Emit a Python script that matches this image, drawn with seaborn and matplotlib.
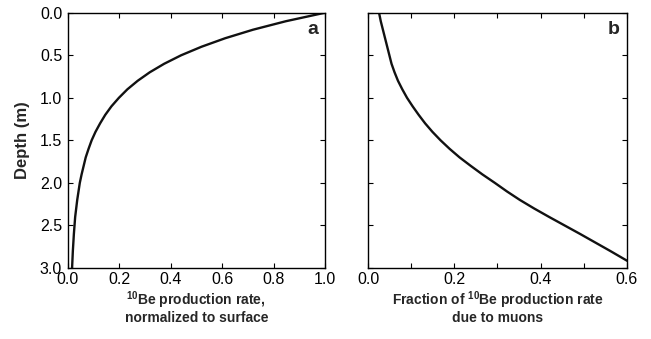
import numpy as np
import pandas as pd
import matplotlib
matplotlib.use("Agg")
import matplotlib.pyplot as plt
import seaborn as sns

# Panel a: 10Be production rate normalized to surface vs depth (m)
depth_a = [0.0, 0.1, 0.2, 0.3, 0.4, 0.5, 0.6, 0.7, 0.8, 0.9, 1.0, 1.1, 1.2,
           1.3, 1.4, 1.5, 1.6, 1.7, 1.8, 1.9, 2.0, 2.2, 2.4, 2.6, 2.8, 3.0]
rate_a = [1.0, 0.848, 0.720, 0.612, 0.520, 0.441, 0.375, 0.319, 0.272,
          0.232, 0.199, 0.170, 0.146, 0.126, 0.108, 0.093, 0.081, 0.070,
          0.062, 0.054, 0.047, 0.037, 0.029, 0.024, 0.020, 0.017]

# Panel b: fraction of 10Be production rate due to muons vs depth (m)
depth_b = [0.0, 0.1, 0.2, 0.3, 0.4, 0.5, 0.6, 0.7, 0.8, 0.9, 1.0, 1.1, 1.2,
           1.3, 1.4, 1.5, 1.6, 1.7, 1.8, 1.9, 2.0, 2.1, 2.2, 2.3, 2.4, 2.5,
           2.6, 2.7, 2.8, 2.9, 3.0]
frac_b = [0.025, 0.029, 0.034, 0.039, 0.044, 0.049, 0.054, 0.061, 0.069,
          0.079, 0.090, 0.103, 0.117, 0.132, 0.149, 0.168, 0.189, 0.212,
          0.238, 0.265, 0.294, 0.322, 0.352, 0.385, 0.420, 0.456, 0.492,
          0.527, 0.562, 0.596, 0.630]

xticks_a = [0.0, 0.2, 0.4, 0.6, 0.8, 1.0]
xticks_b = [0.0, 0.1, 0.2, 0.3, 0.4, 0.5, 0.6]
xticklabels_b = ["0.0", "", "0.2", "", "0.4", "", "0.6"]
yticks = [0.0, 0.5, 1.0, 1.5, 2.0, 2.5, 3.0]

sns.set_style("ticks")
plt.rcParams["font.family"] = ["Liberation Sans", "DejaVu Sans"]
plt.rcParams["mathtext.fontset"] = "custom"
plt.rcParams["mathtext.rm"] = "Liberation Sans"
plt.rcParams["mathtext.bf"] = "Liberation Sans:bold"
plt.rcParams["mathtext.default"] = "bf"

df_a = pd.DataFrame({"depth": depth_a, "rate": rate_a})
df_b = pd.DataFrame({"depth": depth_b, "frac": frac_b})

fig = plt.figure(figsize=(6.51, 3.39), dpi=100)
ax1 = fig.add_axes([0.104, 0.2094, 0.3952, 0.7531])
ax2 = fig.add_axes([0.5657, 0.2094, 0.3969, 0.7531])

sns.lineplot(data=df_a, x="rate", y="depth", sort=False, estimator=None,
             color="#111111", lw=1.7, ax=ax1)
sns.lineplot(data=df_b, x="frac", y="depth", sort=False, estimator=None,
             color="#111111", lw=1.7, ax=ax2)

for ax in (ax1, ax2):
    ax.set_ylim(3.0, 0.0)
    ax.set_yticks(yticks)
    for s in ax.spines.values():
        s.set_visible(True)
        s.set_linewidth(1.0)
        s.set_color("black")
    ax.tick_params(direction="in", top=True, right=True, length=3.5,
                   width=0.8, labelsize=11.5, pad=3, colors="black")
    ax.tick_params(axis="y", pad=4)

ax1.set_xlim(0.0, 1.0)
ax1.set_xticks(xticks_a)
ax1.set_xticklabels([f"{v:.1f}" for v in xticks_a])
ax1.set_yticklabels([f"{v:.1f}" for v in yticks])
ax1.set_ylabel("Depth (m)", fontsize=12, fontweight="bold", labelpad=7)
ax1.set_xlabel("$^{10}$Be production rate,\nnormalized to surface",
               fontsize=10, fontweight="bold", labelpad=1.5, linespacing=1.05)

ax2.set_xlim(0.0, 0.6)
ax2.set_xticks(xticks_b)
ax2.set_xticklabels(xticklabels_b)
ax2.set_yticklabels([])
ax2.set_ylabel("")
ax2.set_xlabel("Fraction of $^{10}$Be production rate\ndue to muons",
               fontsize=10, fontweight="bold", labelpad=1.5, linespacing=1.05)

ax1.text(0.974, 0.936, "a", transform=ax1.transAxes, ha="right", va="center",
         fontsize=14, fontweight="bold")
ax2.text(0.974, 0.936, "b", transform=ax2.transAxes, ha="right", va="center",
         fontsize=14, fontweight="bold")

fig.savefig("out.png", dpi=100)
